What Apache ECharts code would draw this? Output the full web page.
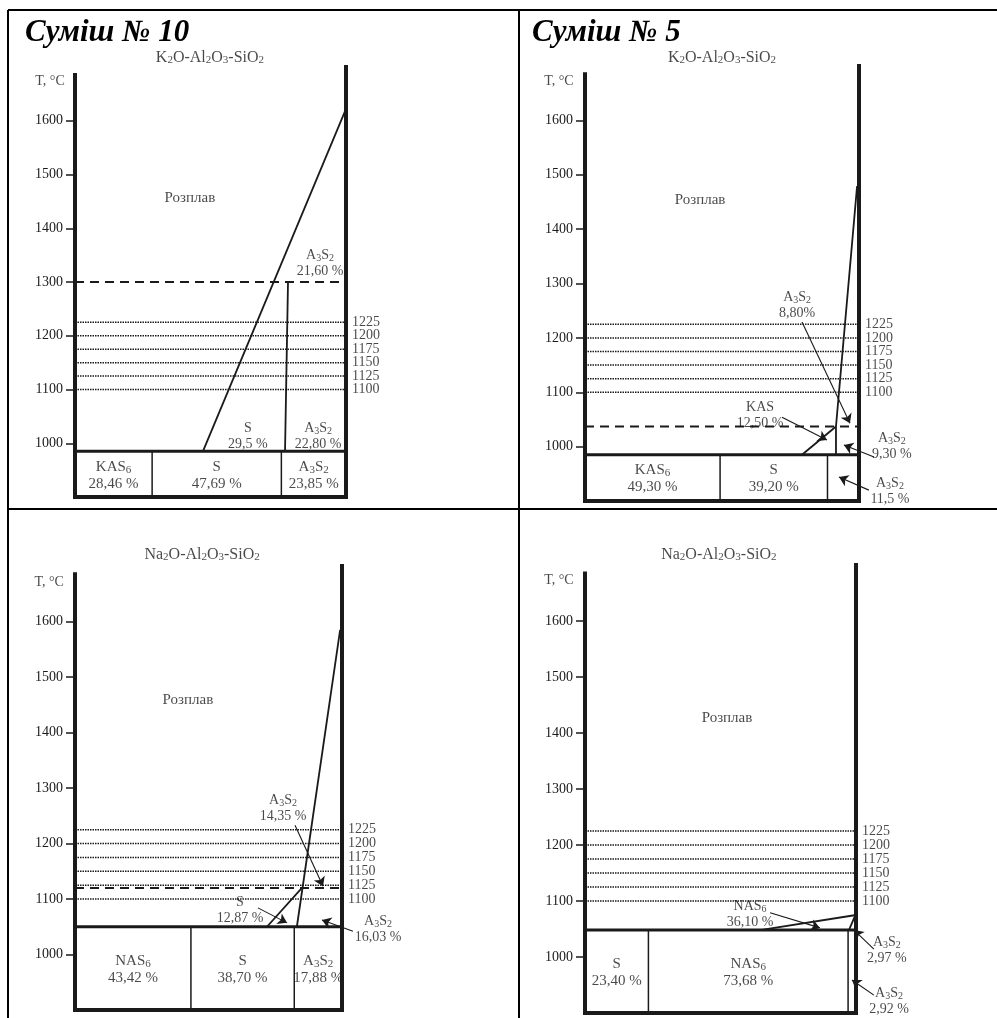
<!DOCTYPE html>
<html>
<head>
<meta charset="utf-8">
<title>Суміш № 10 / Суміш № 5</title>
<script src="https://cdn.jsdelivr.net/npm/echarts@6/dist/echarts.min.js"></script>
<style>
    html, body { margin: 0; padding: 0; background: #fff; }
    #diagram { width: 997px; height: 1018px; }
</style>
</head>
<body>
<div id="diagram"></div>
<script>

// Data
// ------------------------------

var tempTicks = [1000, 1100, 1200, 1300, 1400, 1500, 1600];
var isotherms = [1100, 1125, 1150, 1175, 1200, 1225];
var axisBottomT = 900;
var axisTopT = 1685;
var wallTopT = 1700;

// Суміш № 10, K2O-Al2O3-SiO2
var mix10kPhases = ['KAS6', 'S', 'A3S2'];
var mix10kShares = [28.46, 47.69, 23.85];
var mix10kSolidusT = 985;
var mix10kDashT = 1300;
var mix10kCurves = [
    [[47.2, 985], [100, 1622]],
    [[77.5, 985], [78.6, 1300]]
];
var mix10kNotes = [
    ['Розплав', 42.4, 1456],
    ['A3S2\n21,60 %', 90.4, 1334],
    ['S\n29,5 %', 63.8, 1013],
    ['A3S2\n22,80 %', 89.7, 1013]
];
var mix10kArrows = [];

// Суміш № 5, K2O-Al2O3-SiO2
var mix5kPhases = ['KAS6', 'S', 'A3S2'];
var mix5kShares = [49.30, 39.20, 11.5];
var mix5kSolidusT = 985;
var mix5kDashT = 1037;
var mix5kCurves = [
    [[79.2, 985], [91.6, 1037]],
    [[91.6, 985], [91.6, 1037], [99.3, 1479]]
];
var mix5kNotes = [
    ['Розплав', 42.0, 1454],
    ['A3S2\n8,80%', 77.4, 1260],
    ['KAS\n12,50 %', 63.9, 1058],
    ['A3S2\n9,30 %', 112.0, 1001],
    ['A3S2\n11,5 %', 111.3, 918]
];
var mix5kArrows = [
    [[79.2, 1229], [96.7, 1043]],
    [[71.9, 1054], [88.3, 1012]],
    [[105.5, 981], [94.5, 1003]],
    [[103.6, 920], [92.7, 944]]
];

// Суміш № 10, Na2O-Al2O3-SiO2
var mix10nPhases = ['NAS6', 'S', 'A3S2'];
var mix10nShares = [43.42, 38.70, 17.88];
var mix10nSolidusT = 1050;
var mix10nDashT = 1120;
var mix10nCurves = [
    [[71.9, 1050], [85.0, 1120]],
    [[83.1, 1050], [99.3, 1585]]
];
var mix10nNotes = [
    ['Розплав', 42.3, 1459],
    ['A3S2\n14,35 %', 77.9, 1264],
    ['S\n12,87 %', 61.8, 1080],
    ['A3S2\n16,03 %', 113.5, 1046]
];
var mix10nArrows = [
    [[82.4, 1233], [92.9, 1123]],
    [[68.5, 1084], [79.4, 1057]],
    [[104.1, 1042], [92.5, 1062]]
];

// Суміш № 5, Na2O-Al2O3-SiO2
var mix5nPhases = ['S', 'NAS6', 'A3S2'];
var mix5nShares = [23.40, 73.68, 2.92];
var mix5nSolidusT = 1048;
var mix5nDashT = null;
var mix5nCurves = [
    [[64.6, 1048], [100, 1075]],
    [[97.4, 1048], [99.6, 1073]]
];
var mix5nNotes = [
    ['Розплав', 52.4, 1427],
    ['NAS6\n36,10 %', 60.9, 1077],
    ['A3S2\n2,97 %', 111.4, 1012],
    ['A3S2\n2,92 %', 112.2, 921]
];
var mix5nArrows = [
    [[68.3, 1079], [86.7, 1052]],
    [[106.6, 1014], [99.3, 1048]],
    [[106.6, 932], [98.5, 959]]
];


// Layout
// ------------------------------

var INK = '#1a1a1a';
var FONT = "'Liberation Serif', 'Times New Roman', serif";

var panels = [
    {
        grid: { left: 75, top: 67, width: 271, height: 430 },
        heading: 'Суміш № 10', headingLeft: 25,
        system: 'K2O-Al2O3-SiO2', systemAt: [49.8, 1717], unitAt: [-9.2, 1674],
        phases: mix10kPhases, shares: mix10kShares, solidusT: mix10kSolidusT,
        dashT: mix10kDashT, curves: mix10kCurves, notes: mix10kNotes, arrows: mix10kArrows
    },
    {
        grid: { left: 585, top: 66, width: 274, height: 435 },
        heading: 'Суміш № 5', headingLeft: 532,
        system: 'K2O-Al2O3-SiO2', systemAt: [50.0, 1715], unitAt: [-9.5, 1671],
        phases: mix5kPhases, shares: mix5kShares, solidusT: mix5kSolidusT,
        dashT: mix5kDashT, curves: mix5kCurves, notes: mix5kNotes, arrows: mix5kArrows
    },
    {
        grid: { left: 75, top: 566, width: 267, height: 444 },
        system: 'Na2O-Al2O3-SiO2', systemAt: [47.6, 1720], unitAt: [-9.7, 1671],
        phases: mix10nPhases, shares: mix10nShares, solidusT: mix10nSolidusT,
        dashT: mix10nDashT, curves: mix10nCurves, notes: mix10nNotes, arrows: mix10nArrows
    },
    {
        grid: { left: 585, top: 565, width: 271, height: 448 },
        system: 'Na2O-Al2O3-SiO2', systemAt: [49.4, 1718], unitAt: [-9.6, 1673],
        phases: mix5nPhases, shares: mix5nShares, solidusT: mix5nSolidusT,
        dashT: mix5nDashT, curves: mix5nCurves, notes: mix5nNotes, arrows: mix5nArrows
    }
];

// Digits after a letter become subscripts (A3S2, K2O ...)
function chem(s) {
    return s.replace(/([A-Za-z])(\d+)/g, '$1{s|$2}');
}

function pct(v) {
    return v.toFixed(2).replace('.', ',') + ' %';
}

function richText(size) {
    return {
        s: { fontFamily: FONT, fontSize: size, color: INK, verticalAlign: 'bottom', lineHeight: 16 }
    };
}

function textSeries(i, items, label) {
    return {
        type: 'scatter', xAxisIndex: i, yAxisIndex: i, silent: true, clip: false,
        symbolSize: 0, z: 6,
        data: items.map(function (t) {
            var item = { value: [t[1], t[2]], label: { formatter: chem(t[0]) } };
            // the melt label is set a little larger
            if (t[0] === 'Розплав') item.label.fontSize = 15;
            return item;
        }),
        label: Object.assign({
            show: true, position: 'inside', color: INK,
            fontFamily: FONT, fontSize: 14, lineHeight: 16, rich: richText(10)
        }, label || {})
    };
}

function linesSeries(i, segs, style, more) {
    return Object.assign({
        type: 'lines', coordinateSystem: 'cartesian2d',
        xAxisIndex: i, yAxisIndex: i, silent: true, clip: false,
        polyline: true, symbol: 'none', z: 3,
        data: segs.map(function (c) { return { coords: c }; }),
        lineStyle: Object.assign({ color: INK, opacity: 1, curveness: 0 }, style)
    }, more || {});
}

var option = {
    backgroundColor: '#fff',
    animation: false,
    title: [],
    grid: [],
    xAxis: [],
    yAxis: [],
    series: [],
    graphic: [
        { type: 'line', shape: { x1: 8, y1: 10, x2: 997, y2: 10 }, style: { stroke: '#000', lineWidth: 2 } },
        { type: 'line', shape: { x1: 8, y1: 10, x2: 8, y2: 1018 }, style: { stroke: '#000', lineWidth: 2 } },
        { type: 'line', shape: { x1: 8, y1: 509, x2: 997, y2: 509 }, style: { stroke: '#000', lineWidth: 2 } },
        { type: 'line', shape: { x1: 519, y1: 10, x2: 519, y2: 1018 }, style: { stroke: '#000', lineWidth: 2 } }
    ]
};

panels.forEach(function (p, i) {
    var edges = [0];
    p.shares.forEach(function (s) { edges.push(edges[edges.length - 1] + s); });
    var boxMidT = (p.solidusT + axisBottomT) / 2 - 2;

    if (p.heading) {
        option.title.push({
            text: p.heading, left: p.headingLeft, top: 17, padding: 0,
            textStyle: { fontFamily: FONT, fontSize: 31, fontStyle: 'italic', fontWeight: 'bold', color: '#000' }
        });
    }

    option.grid.push(p.grid);
    option.xAxis.push({ gridIndex: i, type: 'value', min: 0, max: 100, show: false });
    option.yAxis.push({
        gridIndex: i, type: 'value', min: axisBottomT, max: wallTopT, interval: 100,
        axisLine: { show: false },
        splitLine: { show: false },
        axisTick: { show: true, customValues: tempTicks, length: 9, lineStyle: { color: INK, width: 1.5 } },
        axisLabel: {
            customValues: tempTicks, color: INK, fontFamily: FONT, fontSize: 14, margin: 12,
            formatter: function (v) { return String(v); }
        }
    });

    // walls: temperature axis, right edge, bottom
    option.series.push(linesSeries(i, [
        [[0, axisBottomT], [0, axisTopT]],
        [[100, axisBottomT], [100, wallTopT]],
        [[0, axisBottomT], [100, axisBottomT]]
    ], { width: 4, cap: 'square' }, { z: 5 }));

    // solid phase box
    option.series.push(linesSeries(i, [[[0, p.solidusT], [100, p.solidusT]]], { width: 3 }, { z: 4 }));
    option.series.push(linesSeries(i, edges.slice(1, -1).map(function (e) {
        return [[e, axisBottomT], [e, p.solidusT]];
    }), { width: 1.5 }));

    // isotherms
    option.series.push(linesSeries(i, isotherms.map(function (t) {
        return [[0, t], [100, t]];
    }), { width: 1.5, type: [1.5, 1] }, { z: 2 }));

    if (p.dashT) {
        option.series.push(linesSeries(i, [[[0, p.dashT], [100, p.dashT]]], { width: 2, type: [9, 6] }));
    }

    option.series.push(linesSeries(i, p.curves, { width: 1.8 }));

    if (p.arrows.length) {
        option.series.push(linesSeries(i, p.arrows, { width: 1.1 }, {
            polyline: false, symbol: ['none', 'arrow'], symbolSize: 9
        }));
    }

    // texts
    option.series.push(textSeries(i, [[p.system, p.systemAt[0], p.systemAt[1]]], { fontSize: 16, rich: richText(11) }));
    option.series.push(textSeries(i, [['T, °C', p.unitAt[0], p.unitAt[1]]], { fontSize: 14 }));
    option.series.push(textSeries(i, p.notes));
    option.series.push(textSeries(i, p.phases.map(function (ph, k) {
        return [ph + '\n' + pct(p.shares[k]), (edges[k] + edges[k + 1]) / 2, boxMidT];
    }).filter(function (t, k) { return p.shares[k] >= 15; }), { fontSize: 15, lineHeight: 17, rich: richText(11) }));
    option.series.push(textSeries(i, isotherms.map(function (t) {
        return [String(t), 100, t];
    }), { position: 'right', distance: 6, fontSize: 14, lineHeight: 13 }));
});

var diagram = echarts.init(document.getElementById('diagram'), null, { renderer: 'canvas' });
diagram.setOption(option);

</script>
</body>
</html>
